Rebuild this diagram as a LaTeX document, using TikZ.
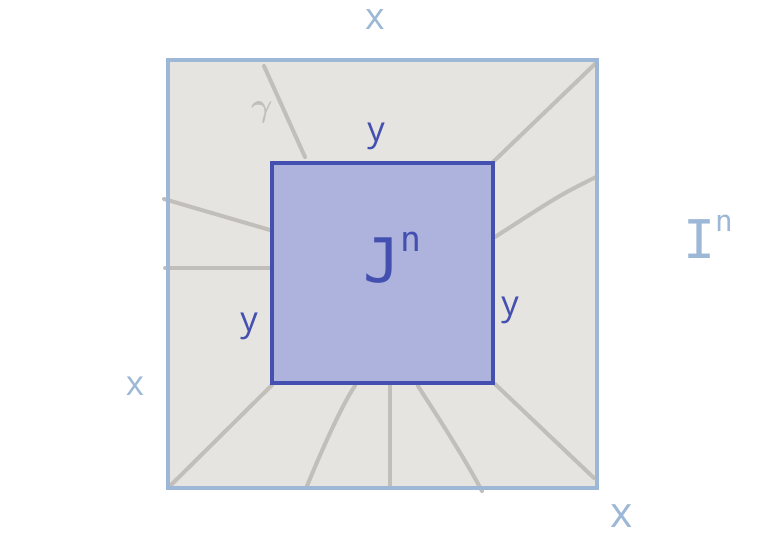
\documentclass[tikz,border=0pt]{standalone}
\usepackage{fontspec}
\usepackage{bm}
\setmainfont{Open Sans}
\newfontfamily\handmono{DejaVu Sans Mono}
\definecolor{outerblue}{HTML}{9DB8D6}
\definecolor{outerfill}{HTML}{E6E4E1}
\definecolor{innerfill}{HTML}{AEB3DD}
\definecolor{innerblue}{HTML}{4450B0}
\definecolor{pathgray}{HTML}{C2BEB9}
\tikzset{
  pathline/.style={draw=pathgray, line width=3pt, line cap=round},
  outerlabel/.style={text=outerblue, inner sep=0pt},
  innerlabel/.style={text=innerblue, inner sep=0pt},
}
\begin{document}
\begin{tikzpicture}[x=0.75pt,y=-0.75pt]
\useasboundingbox (0,0) rectangle (765,550);
% outer square
\fill[outerfill] (168,60) rectangle (597,488);
% gray paths
\coordinate (a1) at (264,66);  \coordinate (b1) at (305,157);
\coordinate (a2) at (164,199); \coordinate (b2) at (270,230);
\coordinate (a3) at (165,268); \coordinate (b3) at (270,268);
\coordinate (a4) at (596,63);  \coordinate (b4) at (493,162);
\coordinate (a5) at (596,177); \coordinate (b5) at (495,237);
\coordinate (a6) at (171,485); \coordinate (b6) at (272,385);
\coordinate (a7) at (307,486); \coordinate (b7) at (355,386);
\coordinate (a8) at (390,486); \coordinate (b8) at (390,385);
\coordinate (a9) at (482,491); \coordinate (b9) at (418,386);
\coordinate (a10) at (594,478); \coordinate (b10) at (495,384);
\draw[pathline] (a1) -- (b1);
\draw[pathline] (a2) -- (b2);
\draw[pathline] (a3) -- (b3);
\draw[pathline] (a4) -- (b4);
\draw[pathline] (a5) .. controls (560,195) .. (b5);
\draw[pathline] (a6) -- (b6);
\draw[pathline] (a7) .. controls (330,430) and (348,395) .. (b7);
\draw[pathline] (a8) -- (b8);
\draw[pathline] (a9) .. controls (460,450) and (430,405) .. (b9);
\draw[pathline] (a10) -- (b10);
% outer border
\draw[outerblue, line width=3.2pt] (168,60) rectangle (597,488);
% inner square
\node[draw=innerblue, fill=innerfill, line width=3.6pt, minimum width=221*0.75pt, minimum height=220*0.75pt, inner sep=0pt] (J) at (382.5,273) {};
% labels
\node[outerlabel, font=\fontsize{28}{28}\selectfont] (xt) at (375,20) {x};
\node[outerlabel, font=\fontsize{26}{26}\selectfont] (xl) at (135,386) {x};
\node[outerlabel, font=\fontsize{32}{32}\selectfont] (xb) at (622,516) {x};
\node[outerlabel, font=\handmono\fontsize{40}{40}\selectfont] (In) at (708,237) {I\raisebox{0.5em}{\fontsize{22}{22}\selectfont n}};
\node[innerlabel, font=\handmono\fontsize{46}{46}\selectfont] (Jn) at (392,258) {J\raisebox{0.5em}{\fontsize{26}{26}\selectfont n}};
\node[innerlabel, font=\fontsize{26}{26}\selectfont] (yt) at (376,136) {y};
\node[innerlabel, font=\fontsize{26}{26}\selectfont] (yl) at (249,326) {y};
\node[innerlabel, font=\fontsize{26}{26}\selectfont] (yr) at (510,310) {y};
\node[text=pathgray, inner sep=0pt, font=\fontsize{40}{40}\selectfont] (g) at (262,112) {$\bm{\gamma}$};
\end{tikzpicture}
\end{document}
